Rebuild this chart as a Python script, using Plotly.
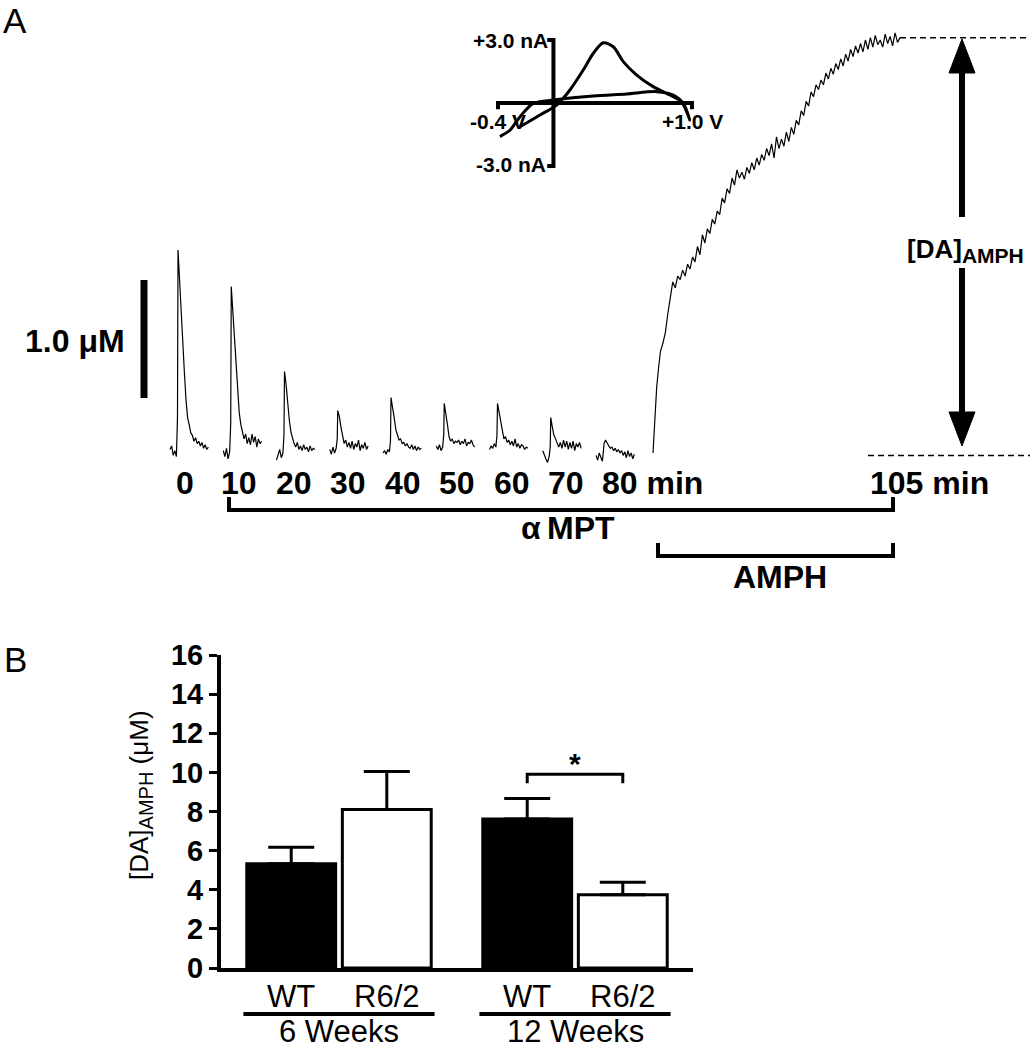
import plotly.graph_objects as go

# ---------------- DATA ----------------
# Panel A: electrically evoked DA release recordings (uM) at successive times
stim_minutes = [0, 10, 20, 30, 40, 50, 60, 70, 80]
rel_min = [-1.5, -1.2, -0.9, -0.6, -0.3, -0.1, 0.0, 0.3, 0.6, 0.9, 1.2, 1.5, 1.8,
           2.1, 2.4, 2.7, 3.0, 3.3, 3.6, 3.9, 4.2, 4.5, 4.8, 5.1, 5.4, 5.7]
peak_0 = [0.03, 0.06, -0.02, 0.02, -0.03, 0.30, 1.72, 1.45, 1.10, 0.85, 0.68, 0.45, 0.30,
          0.24, 0.17, 0.15, 0.10, 0.13, 0.08, 0.10, 0.06, 0.09, 0.04, 0.07, 0.03, 0.05]
peak_10 = [0.02, -0.03, 0.04, -0.05, 0.01, 0.25, 1.41, 1.20, 0.95, 0.70, 0.52, 0.34, 0.24,
           0.18, 0.12, 0.16, 0.08, 0.13, 0.07, 0.16, 0.09, 0.14, 0.05, 0.12, 0.08, 0.10]
peak_20 = [-0.06, -0.02, 0.03, -0.04, 0.0, 0.15, 0.69, 0.58, 0.42, 0.28, 0.18, 0.12, 0.08,
           0.05, 0.09, 0.03, 0.06, 0.02, 0.07, 0.03, 0.05, 0.01, 0.06, 0.02, 0.04, 0.03]
peak_30 = [0.03, -0.01, 0.05, 0.0, 0.04, 0.12, 0.36, 0.31, 0.22, 0.14, 0.08, 0.11, 0.05,
           0.09, 0.04, 0.10, 0.03, 0.08, 0.05, 0.11, 0.02, 0.07, 0.04, 0.09, 0.03, 0.06]
peak_40 = [0.0, 0.02, -0.01, 0.03, 0.01, 0.10, 0.47, 0.40, 0.30, 0.20, 0.15, 0.11, 0.12,
           0.08, 0.09, 0.06, 0.08, 0.05, 0.04, 0.07, 0.03, 0.06, 0.02, 0.05, 0.03, 0.04]
peak_50 = [0.06, 0.03, 0.07, 0.02, 0.05, 0.15, 0.42, 0.34, 0.24, 0.14, 0.10, 0.12, 0.08,
           0.10, 0.09, 0.11, 0.07, 0.10, 0.08, 0.12, 0.06, 0.09, 0.08, 0.11, 0.07, 0.05]
peak_60 = [0.03, 0.06, 0.04, 0.08, 0.05, 0.15, 0.42, 0.35, 0.25, 0.18, 0.12, 0.14, 0.09,
           0.11, 0.07, 0.10, 0.06, 0.12, 0.05, 0.08, 0.04, 0.07, 0.06, 0.03, 0.05, 0.04]
peak_70 = [0.02, -0.02, -0.05, -0.08, -0.03, 0.05, 0.30, 0.22, 0.15, 0.12, 0.08, 0.05, 0.09,
           0.04, 0.11, 0.05, 0.10, 0.03, 0.09, 0.04, 0.10, 0.02, 0.08, 0.05, 0.09, 0.04]
peak_80 = [-0.02, -0.06, 0.0, -0.04, -0.07, 0.02, 0.08, 0.11, 0.08, 0.06, 0.04, 0.05, 0.02,
           0.04, 0.01, 0.03, 0.0, 0.02, -0.02, 0.01, -0.04, 0.02, -0.03, 0.0, -0.05, -0.01]

# AMPH-induced DA efflux (uM) vs time (min)
amph_t = [85.0, 85.15, 85.3, 85.45, 85.6, 85.8, 86.0, 86.2, 86.4, 86.6, 86.8, 87.0, 87.2,
          87.4, 87.6, 87.8, 88.0, 88.2, 88.4, 88.6, 88.8, 89.0, 89.2, 89.4, 89.6, 89.8,
          90.0, 90.2, 90.4, 90.6, 90.8, 91.0, 91.2, 91.4, 91.6, 91.8, 92.0, 92.2, 92.4,
          92.6, 92.8, 93.0, 93.2, 93.4, 93.6, 93.8, 94.0, 94.2, 94.4, 94.6, 94.8, 95.0,
          95.2, 95.4, 95.6, 95.8, 96.0, 96.2, 96.4, 96.6, 96.8, 97.0, 97.2, 97.4, 97.6,
          97.8, 98.0, 98.2, 98.4, 98.6, 98.8, 99.0, 99.2, 99.4, 99.6, 99.8, 100.0, 100.2,
          100.4, 100.6, 100.8, 101.0, 101.2, 101.4, 101.6, 101.8, 102.0, 102.2, 102.4,
          102.6, 102.8, 103.0, 103.2, 103.4, 103.6, 103.8, 104.0, 104.2, 104.4, 104.6,
          104.8, 105.0]
amph_uM = [0.00, 0.30, 0.56, 0.72, 0.86, 0.93, 1.02, 1.18, 1.32, 1.45, 1.40, 1.50, 1.47,
           1.55, 1.50, 1.60, 1.56, 1.66, 1.62, 1.75, 1.68, 1.85, 1.78, 1.90, 1.86, 1.98,
           1.94, 2.05, 2.02, 2.16, 2.12, 2.24, 2.20, 2.33, 2.27, 2.40, 2.33, 2.38, 2.32,
           2.42, 2.37, 2.46, 2.40, 2.50, 2.44, 2.53, 2.48, 2.58, 2.52, 2.62, 2.50, 2.68,
           2.58, 2.66, 2.60, 2.72, 2.64, 2.76, 2.70, 2.82, 2.78, 2.90, 2.86, 2.98, 2.94,
           3.06, 3.02, 3.12, 3.08, 3.16, 3.12, 3.22, 3.17, 3.26, 3.21, 3.30, 3.25, 3.34,
           3.28, 3.38, 3.32, 3.42, 3.36, 3.45, 3.39, 3.47, 3.40, 3.50, 3.42, 3.52, 3.44,
           3.54, 3.46, 3.50, 3.44, 3.55, 3.47, 3.53, 3.45, 3.56, 3.48, 3.52]

# Inset cyclic voltammogram
cv_volts = [-0.386, -0.313, -0.241, -0.145, 0.0, 0.288, 0.529, 0.745, 0.865, 0.937, 0.985,
            0.925, 0.841, 0.720, 0.601, 0.504, 0.432, 0.360, 0.288, 0.215, 0.119, 0.023,
            -0.097, -0.241]
cv_nA = [-1.60, -1.29, -0.65, -0.02, 0.14, 0.33, 0.43, 0.54, 0.38, -0.02, -0.81,
         0.06, 0.38, 0.78, 1.33, 1.97, 2.68, 2.87, 2.37, 1.57, 0.62, -0.10,
         -0.57, -1.13]

# Panel B
age_groups = ["6 Weeks", "12 Weeks"]
genotypes = ["WT", "R6/2"]
wt_mean = [5.33, 7.62]
wt_sem = [0.84, 1.04]
r62_mean = [8.10, 3.74]
r62_sem = [1.95, 0.64]
sig_level = 9.9
y_ticks_b = [0, 2, 4, 6, 8, 10, 12, 14, 16]

# ---------------- LAYOUT HELPERS ----------------
W, H = 1032, 1050
FONT = "Liberation Sans, Arial, Helvetica, sans-serif"


def PX(px):
    return px / W


def PY(py):
    return 1 - py / H


annotations = []
shapes = []


def ann(text, px, py, size, xanchor="center", yanchor="middle", xref="paper", x=None,
        xshift=0, textangle=0, yref="paper", y=None):
    annotations.append(dict(
        text=text, showarrow=False, font=dict(family=FONT, size=size, color="black"),
        xref=xref, yref=yref, x=PX(px) if x is None else x, y=PY(py) if y is None else y,
        xanchor=xanchor, yanchor=yanchor, xshift=xshift, textangle=textangle,
        borderpad=0))


def pline(points, width, dash="solid"):
    path = "M " + " L ".join(f"{PX(a):.5f},{PY(b):.5f}" for a, b in points)
    shapes.append(dict(type="path", path=path, xref="paper", yref="paper",
                       line=dict(color="black", width=width, dash=dash)))


def ptri(points):
    path = "M " + " L ".join(f"{PX(a):.5f},{PY(b):.5f}" for a, b in points) + " Z"
    shapes.append(dict(type="path", path=path, xref="paper", yref="paper",
                       fillcolor="black", line=dict(color="black", width=1)))


fig = go.Figure()

# ---------------- PANEL A traces ----------------
peaks = [peak_0, peak_10, peak_20, peak_30, peak_40, peak_50, peak_60, peak_70, peak_80]
xs, ys = [], []
for m, vals in zip(stim_minutes, peaks):
    xs += [m + r for r in rel_min] + [None]
    ys += vals + [None]
fig.add_trace(go.Scatter(x=xs, y=ys, mode="lines", line=dict(color="black", width=1.2),
                         xaxis="x", yaxis="y", hoverinfo="skip"))
fig.add_trace(go.Scatter(x=amph_t, y=amph_uM, mode="lines",
                         line=dict(color="black", width=1.2),
                         xaxis="x3", yaxis="y", hoverinfo="skip"))

# inset axes + CV
fig.add_trace(go.Scatter(x=[-0.045, 0, 0, -0.045], y=[3, 3, -3, -3], mode="lines",
                         line=dict(color="black", width=4), xaxis="x4", yaxis="y4",
                         hoverinfo="skip"))
fig.add_trace(go.Scatter(x=[-0.4, -0.4, 1.0, 1.0], y=[-0.3, 0, 0, -0.3], mode="lines",
                         line=dict(color="black", width=4), xaxis="x4", yaxis="y4",
                         hoverinfo="skip"))
fig.add_trace(go.Scatter(x=cv_volts, y=cv_nA, mode="lines",
                         line=dict(color="black", width=3, shape="spline", smoothing=0.8),
                         xaxis="x4", yaxis="y4", hoverinfo="skip"))

# ---------------- PANEL B bars ----------------
fig.add_trace(go.Bar(x=age_groups, y=wt_mean, name="WT", marker=dict(color="black",
                     line=dict(color="black", width=3)),
                     error_y=dict(type="data", array=wt_sem, arrayminus=[0, 0],
                                  symmetric=False, width=23, thickness=3, color="black"),
                     xaxis="x2", yaxis="y2", hoverinfo="skip"))
fig.add_trace(go.Bar(x=age_groups, y=r62_mean, name="R6/2", marker=dict(color="white",
                     line=dict(color="black", width=3)),
                     error_y=dict(type="data", array=r62_sem, arrayminus=[0, 0],
                                  symmetric=False, width=23, thickness=3, color="black"),
                     xaxis="x2", yaxis="y2", hoverinfo="skip"))

# ---------------- PANEL A annotations / shapes ----------------
ann("A", 15, 0, 35, yanchor="top")
ann("B", 15, 659, 35)

# scale bar
pline([(144, 280), (144, 398)], 7)
ann("<b>1.0 \u03bcM</b>", 126, 341, 32, xanchor="right")

# time labels
for m in stim_minutes[:-1]:
    ann(f"<b>{m}</b>", 0, 483, 32, xref="x", x=m, xshift=7 + round(m * 0.115))
ann("<b>80 min</b>", 0, 483, 32, xref="x", x=80, xanchor="left", xshift=-3)
ann("<b>105 min</b>", 0, 483, 32, xref="x3", x=105, xanchor="left", xshift=-31)

# brackets
pline([(229, 497), (229, 510), (893, 510), (893, 497)], 4)
ann("<b>\u03b1\u2009MPT</b>", 568, 528, 32)
pline([(658, 543), (658, 556), (893, 556), (893, 543)], 4)
ann("<b>AMPH</b>", 780, 577, 32)

# dashed reference lines (plateau and baseline)
shapes.append(dict(type="line", xref="paper", yref="y", x0=PX(900), x1=PX(1030),
                   y0=amph_uM[-1], y1=amph_uM[-1],
                   line=dict(color="black", width=1.5, dash="6px,4px")))
shapes.append(dict(type="line", xref="paper", yref="y", x0=PX(868), x1=PX(1030),
                   y0=-0.02, y1=-0.02, line=dict(color="black", width=1.5, dash="6px,4px")))

# double arrow
pline([(962, 70), (962, 217)], 6)
ptri([(949, 73), (975, 73), (962, 39)])
pline([(962, 268), (962, 415)], 6)
ptri([(949, 412), (975, 412), (962, 446)])
ann("<b>[DA]<sub><span style='font-size:21px'>AMPH</span></sub></b>", 906, 250, 26,
    xanchor="left")

# inset labels
ann("<b>+3.0 nA</b>", 549, 41, 21, xanchor="right")
ann("<b>-3.0 nA</b>", 547, 164, 21, xanchor="right")
ann("<b>-0.4 V</b>", 498, 122, 21)
ann("<b>+1.0 V</b>", 692, 122, 21)

# ---------------- PANEL B annotations / shapes ----------------
bar_off = 0.2025
for gi, g in enumerate(age_groups):
    ann(genotypes[0], 0, 996, 31, xref="x2", x=gi - bar_off)
    ann(genotypes[1], 0, 996, 31, xref="x2", x=gi + bar_off)
    shapes.append(dict(type="line", xref="x2", yref="paper", x0=gi - 0.405, x1=gi + 0.405,
                       y0=PY(1014), y1=PY(1014), line=dict(color="black", width=4)))
    ann(g, 0, 1050, 31, xref="x2", x=gi, yanchor="bottom")

# significance bracket (12 weeks)
shapes.append(dict(type="path", xref="x2", yref="y2",
                   path=f"M {1 - bar_off},{sig_level - 0.45} L {1 - bar_off},{sig_level} "
                        f"L {1 + bar_off},{sig_level} L {1 + bar_off},{sig_level - 0.45}",
                   line=dict(color="black", width=3)))
ann("<b>*</b>", 0, 0, 30, xref="x2", x=1, yref="y2", y=sig_level + 0.55)

ann("[DA]<sub><span style='font-size:20px'>AMPH</span></sub> (\u03bcM)", 140, 795, 26,
    textangle=-90)

# ---------------- LAYOUT ----------------
hidden = dict(visible=False, automargin=False, showgrid=False, zeroline=False)
fig.update_layout(
    width=W, height=H, autosize=False,
    margin=dict(l=0, r=0, t=0, b=0, pad=0, autoexpand=False),
    paper_bgcolor="white", plot_bgcolor="rgba(0,0,0,0)", showlegend=False,
    barmode="group", bargap=0.19, bargroupgap=0.07,
    font=dict(family=FONT, color="black"),
    xaxis=dict(domain=[0, 1], range=[-33.43, 160.38], anchor="y", **hidden),
    yaxis=dict(domain=[0.5, 1], range=[-0.610, 3.839], anchor="x", **hidden),
    xaxis3=dict(domain=[0, 1], range=[32.126, 115.688], overlaying="x", anchor="y",
                **hidden),
    xaxis4=dict(domain=[PX(491.1), PX(698.9)], range=[-0.45, 1.05], anchor="y4", **hidden),
    yaxis4=dict(domain=[PY(172.3), PY(33.7)], range=[-3.3, 3.3], anchor="x4", **hidden),
    xaxis2=dict(domain=[PX(221), PX(693)], type="category", anchor="y2",
                showline=True, linecolor="black", linewidth=4, ticks="",
                showticklabels=False, showgrid=False, zeroline=False, automargin=False),
    yaxis2=dict(domain=[PY(968), PY(655)], range=[0, 16], anchor="x2",
                tickvals=y_ticks_b, ticktext=[str(v) for v in y_ticks_b],
                showline=True, linecolor="black", linewidth=4, ticks="outside",
                ticklen=8, tickwidth=3, tickcolor="black", showgrid=False,
                zeroline=False, automargin=False,
                tickfont=dict(family=FONT, size=29, color="black", weight="bold")),
    annotations=annotations, shapes=shapes,
)

fig.write_html("out.html",
               config={"displayModeBar": False},
               post_script="document.body.style.margin='0px';"
                           "document.documentElement.style.overflow='hidden';")
